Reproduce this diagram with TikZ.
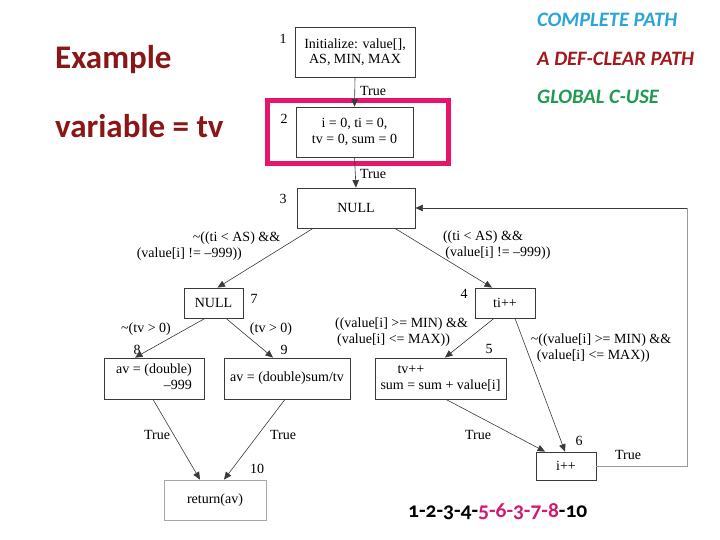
\documentclass[tikz,border=0pt]{standalone}
\usepackage{fontspec}
\setmainfont{Liberation Serif}
\newfontfamily\carfont{Carlito}
\newfontfamily\caroldfont{Carlito}[Numbers=OldStyle]
\usetikzlibrary{arrows.meta,calc}
\definecolor{exred}{HTML}{8A1718}
\definecolor{cpath}{HTML}{2AA5D9}
\definecolor{dcpath}{HTML}{A3181C}
\definecolor{gcuse}{HTML}{1F9A4E}
\definecolor{pinkf}{HTML}{E5156B}
\definecolor{magp}{HTML}{D2196E}
\definecolor{edgec}{HTML}{3A3A3A}
\tikzset{
  blk/.style={draw=edgec,line width=0.8pt,rectangle,inner sep=0pt,align=center,font=\fontsize{14}{15.5}\selectfont},
  num/.style={inner sep=0pt,font=\fontsize{14}{15.5}\selectfont},
  lbl/.style={inner sep=0pt,align=center,font=\fontsize{14}{15.5}\selectfont},
  arr/.style={draw=edgec,line width=0.6pt,-{Triangle[length=7.5pt,width=6.5pt]}},
  ln/.style={draw=gray!80,line width=0.8pt},
  ttl/.style={anchor=base west,inner sep=0pt,font=\carfont\bfseries\itshape\fontsize{20.5}{22}\selectfont}
}
\begin{document}
\begin{tikzpicture}[x=1pt,y=-1pt]
\useasboundingbox[fill=white] (0,0) rectangle (720,540);
% titles
\node[anchor=base west,inner sep=0pt,text=exred,font=\carfont\bfseries\fontsize{33}{35}\selectfont] (ex) at (55,69) {Example};
\node[anchor=base west,inner sep=0pt,text=exred,font=\carfont\bfseries\fontsize{33}{35}\selectfont] (var) at (55,138) {variable = tv};
\node[ttl,text=cpath] (cp) at (537,27) {COMPLETE PATH};
\node[ttl,text=dcpath] (dc) at (537,66) {A DEF-CLEAR PATH};
\node[ttl,text=gcuse] (gc) at (537,104) {GLOBAL C-USE};
% nodes
\node[blk,minimum width=120pt,minimum height=50pt] (n1) at (355,52) {Initialize: value[],\\AS, MIN, MAX};
\node[blk,minimum width=117pt,minimum height=50pt] (n2) at (354.5,132) {i = 0, ti = 0,\\tv = 0, sum = 0};
\node[draw=pinkf,line width=5pt,minimum width=181pt,minimum height=63pt,inner sep=0pt] (pf) at (357.5,132.5) {};
\node[blk,minimum width=118pt,minimum height=40pt] (n3) at (356,208) {NULL};
\node[blk,minimum width=59pt,minimum height=30pt] (n7) at (213.5,303) {NULL};
\node[blk,minimum width=60pt,minimum height=30pt] (n4) at (505,303) {ti++};
\node[blk,minimum width=100pt,minimum height=41pt] (n8) at (154,378.5) {\begin{tabular}{@{}r@{}}av = (double)\\--999\end{tabular}};
\node[blk,minimum width=126pt,minimum height=41pt] (n9) at (287,378.5) {av = (double)sum/tv};
\node[blk,minimum width=131pt,minimum height=41pt] (n5) at (440.5,378.5) {\begin{tabular}{@{}l@{}}\hspace{17pt}tv++\\sum = sum + value[i]\end{tabular}};
\node[blk,minimum width=60pt,minimum height=28pt] (n6) at (566,466) {i++};
\node[blk,draw=gray!70,minimum width=102pt,minimum height=40pt] (n10) at (215,500) {return(av)};
% numbers
\node[num] (l1) at (283,39) {1};
\node[num] (l2) at (284,119) {2};
\node[num] (l3) at (283,199) {3};
\node[num] (l7) at (254,299) {7};
\node[num] (l4) at (464,294) {4};
\node[num] (l8) at (137,350) {8};
\node[num] (l9) at (284,350) {9};
\node[num] (l5) at (489,349) {5};
\node[num] (l6) at (579,441) {6};
\node[num] (l10) at (257,469) {10};
% edges
\draw[arr] (n1.south) -- (n2.north);
\draw[arr] (n2.south) -- (n3.north);
\draw[arr] ([xshift=-43pt]n3.south) -- ([xshift=4pt]n7.north);
\draw[arr] ([xshift=39pt]n3.south) -- ([xshift=-13pt]n4.north);
\draw[arr] ([xshift=-8.5pt]n7.south) -- ([xshift=-19pt]n8.north);
\draw[arr] ([xshift=12.5pt]n7.south) -- ([xshift=-14pt]n9.north);
\draw[arr] ([xshift=-1pt]n8.south) -- ([xshift=-15pt]n10.north);
\draw[arr] ([xshift=-2pt]n9.south) -- ([xshift=9pt]n10.north);
\draw[arr] ([xshift=-11pt]n4.south) -- ([xshift=4.5pt]n5.north);
\draw[arr] ([xshift=10pt]n4.south) -- ([xshift=-1pt]n6.north);
\draw[arr] ([xshift=5.5pt]n5.south) -- ([xshift=-21pt]n6.north);
\coordinate (lc) at (687,466);
\coordinate (tc) at (687,208);
\draw[ln] (n6.east) -- (lc) -- (tc);
\draw[arr] (tc) -- (n3.east);
% edge labels
\node[lbl] (t12) at (373,91) {True};
\node[lbl] (t23) at (373,174) {True};
\node[lbl,align=left] (e37) at (208.5,246) {\hspace*{56pt}\textasciitilde((ti < AS) \&\&\\(value[i] != --999))};
\node[lbl] (e34) at (495,245) {((ti < AS) \&\&\hspace*{24pt}\\\hspace*{6pt}(value[i] != --999))};
\node[lbl] (e78) at (146,329) {\textasciitilde(tv > 0)};
\node[lbl] (e79) at (271,329) {(tv > 0)};
\node[lbl,align=left] (e45) at (401.5,332) {((value[i] >= MIN) \&\&\\\hspace*{2pt}(value[i] <= MAX))};
\node[lbl,align=left] (e46) at (601,348) {\textasciitilde((value[i] >= MIN) \&\&\\\hspace*{6pt}(value[i] <= MAX))};
\node[lbl] (t810) at (157,435) {True};
\node[lbl] (t910) at (283,435) {True};
\node[lbl] (t56) at (478,435) {True};
\node[lbl] (t63) at (628,455) {True};
% path string
\node[anchor=base west,inner sep=0pt,font=\caroldfont\bfseries\fontsize{21.5}{23}\selectfont] (ps) at (408,517) {1-2-3-4-\textcolor{magp}{5-6-3-7-8}-10};
\end{tikzpicture}
\end{document}
